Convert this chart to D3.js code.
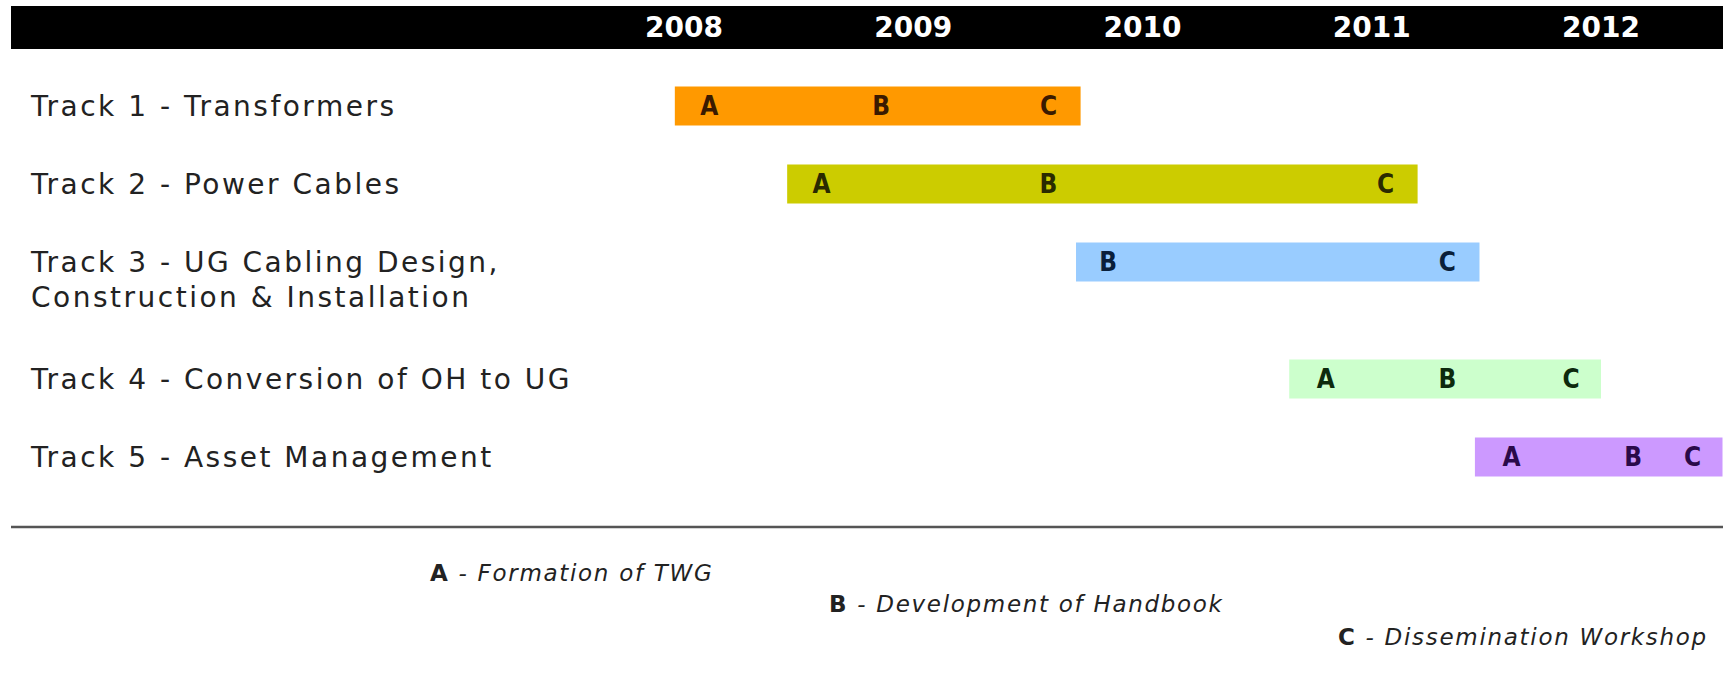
<!DOCTYPE html>
<html>
<head>
<meta charset="utf-8">
<script src="https://cdn.jsdelivr.net/npm/d3@7"></script>
<style>
  body { margin: 0; background: #fff; }
  svg { display: block; }
</style>
</head>
<body>
<svg id="chart" width="1729" height="682"></svg>
<script>
// chart data
const years = [2008, 2009, 2010, 2011, 2012];
const trackLabels = [
    ["Track 1 - Transformers"],
    ["Track 2 - Power Cables"],
    ["Track 3 - UG Cabling Design,", "Construction & Installation"],
    ["Track 4 - Conversion of OH to UG"],
    ["Track 5 - Asset Management"]
];
const barStart = [2007.96, 2008.45, 2009.71, 2010.64, 2011.45];
const barEnd = [2009.73, 2011.20, 2011.47, 2012.00, 2012.53];
const milestoneKeys = [
    ["A", "B", "C"],
    ["A", "B", "C"],
    ["B", "C"],
    ["A", "B", "C"],
    ["A", "B", "C"]
];
const milestoneTimes = [
    [2008.11, 2008.86, 2009.59],
    [2008.60, 2009.59, 2011.06],
    [2009.85, 2011.33],
    [2010.80, 2011.33, 2011.87],
    [2011.61, 2012.14, 2012.40]
];
const legendItems = ["A - Formation of TWG", "B - Development of Handbook", "C - Dissemination Workshop"];
const barColors = ["#ff9900", "#cccc00", "#99ccff", "#ccffcc", "#cc99ff"];
const letterColors = ["#3a1a00", "#2a2a00", "#0a1f3a", "#0d2a0d", "#2a0a4a"];

const svg = d3.select("#chart");

// time axis: year labels sit at year positions
const x = d3.scaleLinear()
    .domain([2008, 2012])
    .range([684, 1601]);

// header bar
svg.append("rect")
    .attr("x", 11).attr("y", 6)
    .attr("width", 1712).attr("height", 43)
    .attr("fill", "#000");

svg.append("g")
    .selectAll("text")
    .data(years)
    .enter().append("text")
    .attr("x", d => x(d))
    .attr("y", 37)
    .attr("text-anchor", "middle")
    .attr("font-family", "DejaVu Sans")
    .attr("font-weight", "bold")
    .attr("font-size", 28)
    .attr("fill", "#fff")
    .text(d => d);

// rows: a bit more room after the two-line label
const slot = [];
let s = 0;
trackLabels.forEach((lines, i) => {
    slot.push(s);
    s += lines.length > 1 ? 1.5 : 1;
});
const y = d3.scaleLinear().domain([0, 4.5]).range([106, 457]);
const barH = 39;

const rows = svg.append("g")
    .selectAll("g")
    .data(trackLabels.map((lines, i) => ({
        lines, i,
        start: barStart[i], end: barEnd[i],
        marks: milestoneKeys[i].map((k, j) => ({ k, t: milestoneTimes[i][j] }))
    })))
    .enter().append("g")
    .attr("transform", d => `translate(0,${y(slot[d.i])})`);

rows.append("text")
    .attr("x", 31)
    .attr("y", 10)
    .attr("font-family", "DejaVu Sans")
    .attr("font-size", 28)
    .attr("letter-spacing", 2.5)
    .attr("fill", "#222")
    .selectAll("tspan")
    .data(d => d.lines)
    .enter().append("tspan")
    .attr("x", 31)
    .attr("dy", (d, j) => j === 0 ? 0 : 35)
    .text(d => d);

rows.append("rect")
    .attr("x", d => x(d.start))
    .attr("y", -barH / 2)
    .attr("width", d => x(d.end) - x(d.start))
    .attr("height", barH)
    .attr("fill", d => barColors[d.i]);

rows.each(function(d) {
    d3.select(this).selectAll("text.mark")
        .data(d.marks)
        .enter().append("text")
        .attr("class", "mark")
        .attr("x", m => x(m.t))
        .attr("y", 9)
        .attr("text-anchor", "middle")
        .attr("font-family", "DejaVu Sans Condensed, DejaVu Sans")
        .attr("font-weight", "bold")
        .attr("font-size", 26)
        .attr("fill", letterColors[d.i])
        .text(m => m.k);
});

// separator
svg.append("line")
    .attr("x1", 11).attr("x2", 1723)
    .attr("y1", 527).attr("y2", 527)
    .attr("stroke", "#555")
    .attr("stroke-width", 2.5);

// legend, stepped down to the right
const legendX = [430, 829, 1338];
const legendY = [581, 612, 645];
svg.append("g")
    .selectAll("text")
    .data(legendItems)
    .enter().append("text")
    .attr("x", (d, i) => legendX[i])
    .attr("y", (d, i) => legendY[i])
    .attr("font-family", "DejaVu Sans")
    .attr("font-style", "italic")
    .attr("font-size", 23)
    .attr("letter-spacing", 1.7)
    .attr("fill", "#222")
    .each(function(d) {
        const el = d3.select(this);
        el.append("tspan").attr("font-weight", "bold").attr("font-style", "normal").text(d.slice(0, 1));
        el.append("tspan").text(d.slice(1));
    });
</script>
</body>
</html>
